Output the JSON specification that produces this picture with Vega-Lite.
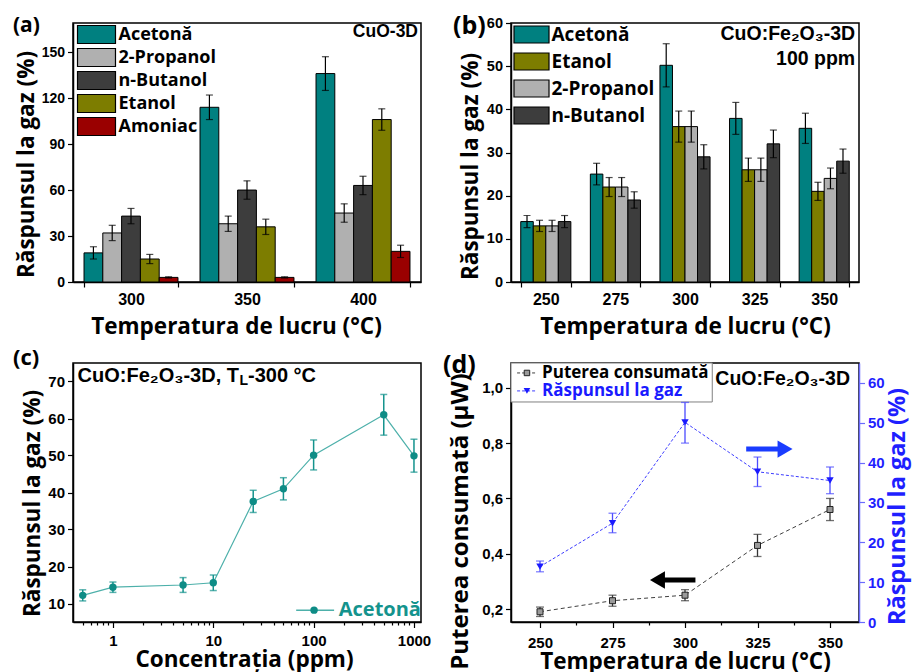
{
  "$schema": "https://vega.github.io/schema/vega-lite/v6.json",
  "background": "white",
  "padding": {"left": 12, "top": 12, "right": 2, "bottom": 2},
  "columns": 2,
  "bounds": "flush",
  "spacing": {"row": 81, "column": 90},
  "resolve": {"scale": {"xOffset": "independent", "fill": "independent"}},
  "config": {
    "font": "Open Sans",
    "view": {"stroke": "black", "strokeWidth": 1.5},
    "axis": {
      "labelFont": "Liberation Sans", "labelFontWeight": "bold", "labelFontSize": 15, "labelColor": "black",
      "titleFont": "Open Sans", "titleFontWeight": "bold", "titleFontSize": 22.5, "titleColor": "black",
      "domainColor": "black", "domainWidth": 1.5, "tickColor": "black", "tickWidth": 1.2, "tickSize": 5,
      "grid": false, "labelFlush": false, "labelOverlap": false, "labelPadding": 3, "labelBound": false
    },
    "title": {"font": "Open Sans", "fontWeight": "bold", "fontSize": 25, "color": "black", "anchor": "start", "frame": "group", "baseline": "alphabetic"},
    "text": {"font": "Liberation Sans", "fontWeight": "bold", "color": "black"}
  },
  "concat": [
    {
      "width": 348, "height": 259,
      "title": {"text": "(a)", "dx": -60, "offset": -12.5, "fontSize": 21},
      "data": {"values": [
        {"T": "300", "gas": "Acetonă", "v": 19, "lo": 15, "hi": 23},
        {"T": "300", "gas": "2-Propanol", "v": 32, "lo": 27, "hi": 37},
        {"T": "300", "gas": "n-Butanol", "v": 43, "lo": 38, "hi": 48},
        {"T": "300", "gas": "Etanol", "v": 15, "lo": 12, "hi": 18},
        {"T": "300", "gas": "Amoniac", "v": 3, "lo": 2.6, "hi": 3.4},
        {"T": "350", "gas": "Acetonă", "v": 114, "lo": 106, "hi": 122},
        {"T": "350", "gas": "2-Propanol", "v": 38, "lo": 33, "hi": 43},
        {"T": "350", "gas": "n-Butanol", "v": 60, "lo": 54, "hi": 66},
        {"T": "350", "gas": "Etanol", "v": 36, "lo": 31, "hi": 41},
        {"T": "350", "gas": "Amoniac", "v": 3, "lo": 2.6, "hi": 3.4},
        {"T": "400", "gas": "Acetonă", "v": 136, "lo": 125, "hi": 147},
        {"T": "400", "gas": "2-Propanol", "v": 45, "lo": 39, "hi": 51},
        {"T": "400", "gas": "n-Butanol", "v": 63, "lo": 57, "hi": 69},
        {"T": "400", "gas": "Etanol", "v": 106, "lo": 99, "hi": 113},
        {"T": "400", "gas": "Amoniac", "v": 20, "lo": 16, "hi": 24}
      ]},
      "layer": [
        {
          "mark": {"type": "bar", "stroke": "black", "strokeWidth": 1},
          "encoding": {
            "x": {"field": "T", "type": "nominal", "scale": {"paddingInner": 0.19, "paddingOuter": 0.095},
                  "axis": {"title": "Temperatura de lucru (°C)", "titleX": 163, "labelAngle": 0, "tickBand": "extent", "labelFontSize": 16, "labelPadding": 4, "titlePadding": 8.5}},
            "xOffset": {"field": "gas", "type": "nominal", "scale": {"domain": ["Acetonă", "2-Propanol", "n-Butanol", "Etanol", "Amoniac"]}},
            "y": {"field": "v", "type": "quantitative", "scale": {"domain": [0, 169], "nice": false},
                  "axis": {"title": "Răspunsul la gaz (%)", "titleY": 141, "titlePadding": 3, "labelFontSize": 14, "labelOverlap": false,
                           "values": [0, 15, 30, 45, 60, 75, 90, 105, 120, 135, 150, 165],
                           "labelExpr": "datum.value % 30 == 0 ? datum.label : ''",
                           "tickSize": {"condition": {"test": "datum.value % 30 != 0", "value": 3}, "value": 5.5}}},
            "fill": {"field": "gas", "type": "nominal",
                     "scale": {"domain": ["Acetonă", "2-Propanol", "n-Butanol", "Etanol", "Amoniac"], "range": ["#008080", "#b0b0b0", "#3d3d3d", "#7d7d00", "#9a0000"]},
                     "legend": {"orient": "none", "legendX": 12, "legendY": 0, "title": null, "padding": 0,
                                "symbolType": "M-1.79,-0.85H1.79V0.85H-1.79Z", "symbolSize": 450, "symbolStrokeColor": "black", "symbolStrokeWidth": 1.2,
                                "labelFont": "Open Sans", "labelFontSize": 18, "labelFontWeight": "bold", "labelColor": "black",
                                "labelOffset": 10.5, "rowPadding": 0, "labelLimit": 300}}
          }
        },
        {
          "mark": {"type": "rule", "color": "black", "strokeWidth": 1.2},
          "encoding": {
            "x": {"field": "T", "type": "nominal"},
            "xOffset": {"field": "gas", "type": "nominal"},
            "y": {"field": "lo", "type": "quantitative"}, "y2": {"field": "hi"}
          }
        },
        {
          "mark": {"type": "tick", "color": "black", "thickness": 1.2, "size": 7},
          "encoding": {
            "x": {"field": "T", "type": "nominal"},
            "xOffset": {"field": "gas", "type": "nominal"},
            "y": {"field": "lo", "type": "quantitative"}
          }
        },
        {
          "mark": {"type": "tick", "color": "black", "thickness": 1.2, "size": 7},
          "encoding": {
            "x": {"field": "T", "type": "nominal"},
            "xOffset": {"field": "gas", "type": "nominal"},
            "y": {"field": "hi", "type": "quantitative"}
          }
        },
        {
          "data": {"values": [{}]},
          "mark": {"type": "text", "align": "right", "baseline": "middle", "dx": 55, "fontSize": 17.5},
          "encoding": {"x": {"datum": "400"}, "y": {"datum": 163}, "text": {"value": "CuO-3D"}}
        }
      ]
    },
    {
      "width": 348, "height": 259,
      "title": {"text": "(b)", "dx": -58, "offset": -23.5},
      "data": {"values": [
        {"T": "250", "gas": "Acetonă", "v": 14, "lo": 12.6, "hi": 15.4},
        {"T": "250", "gas": "Etanol", "v": 13, "lo": 11.7, "hi": 14.3},
        {"T": "250", "gas": "2-Propanol", "v": 13, "lo": 11.7, "hi": 14.3},
        {"T": "250", "gas": "n-Butanol", "v": 14, "lo": 12.6, "hi": 15.4},
        {"T": "275", "gas": "Acetonă", "v": 25, "lo": 22.5, "hi": 27.5},
        {"T": "275", "gas": "Etanol", "v": 22, "lo": 19.8, "hi": 24.2},
        {"T": "275", "gas": "2-Propanol", "v": 22, "lo": 19.8, "hi": 24.2},
        {"T": "275", "gas": "n-Butanol", "v": 19, "lo": 17.1, "hi": 20.9},
        {"T": "300", "gas": "Acetonă", "v": 50.2, "lo": 45.2, "hi": 55.2},
        {"T": "300", "gas": "Etanol", "v": 36, "lo": 32.4, "hi": 39.6},
        {"T": "300", "gas": "2-Propanol", "v": 36, "lo": 32.4, "hi": 39.6},
        {"T": "300", "gas": "n-Butanol", "v": 29, "lo": 26.2, "hi": 31.8},
        {"T": "325", "gas": "Acetonă", "v": 37.9, "lo": 34.2, "hi": 41.6},
        {"T": "325", "gas": "Etanol", "v": 26, "lo": 23.3, "hi": 28.7},
        {"T": "325", "gas": "2-Propanol", "v": 26, "lo": 23.3, "hi": 28.7},
        {"T": "325", "gas": "n-Butanol", "v": 32, "lo": 28.8, "hi": 35.2},
        {"T": "350", "gas": "Acetonă", "v": 35.6, "lo": 32.1, "hi": 39.1},
        {"T": "350", "gas": "Etanol", "v": 21, "lo": 18.9, "hi": 23.1},
        {"T": "350", "gas": "2-Propanol", "v": 24, "lo": 21.6, "hi": 26.4},
        {"T": "350", "gas": "n-Butanol", "v": 28, "lo": 25.2, "hi": 30.8}
      ]},
      "layer": [
        {
          "mark": {"type": "bar", "stroke": "black", "strokeWidth": 1},
          "encoding": {
            "x": {"field": "T", "type": "nominal", "scale": {"paddingInner": 0.28, "paddingOuter": 0.14},
                  "axis": {"title": "Temperatura de lucru (°C)", "labelAngle": 0, "tickBand": "extent", "labelFontSize": 16, "labelPadding": 4, "titlePadding": 8.5}},
            "xOffset": {"field": "gas", "type": "nominal", "scale": {"domain": ["Acetonă", "Etanol", "2-Propanol", "n-Butanol"]}},
            "y": {"field": "v", "type": "quantitative", "scale": {"domain": [0, 60], "nice": false},
                  "axis": {"title": "Răspunsul la gaz (%)", "titleY": 143, "titlePadding": 4, "labelFontSize": 14.5, "labelOverlap": false,
                           "values": [0, 5, 10, 15, 20, 25, 30, 35, 40, 45, 50, 55, 60],
                           "labelExpr": "datum.value % 10 == 0 ? datum.label : ''",
                           "tickSize": {"condition": {"test": "datum.value % 10 != 0", "value": 3}, "value": 5.5}}},
            "fill": {"field": "gas", "type": "nominal",
                     "scale": {"domain": ["Acetonă", "Etanol", "2-Propanol", "n-Butanol"], "range": ["#008080", "#7d7d00", "#b0b0b0", "#3d3d3d"]},
                     "legend": {"orient": "none", "legendX": 5, "legendY": -4, "title": null, "padding": 0,
                                "symbolType": "M-1.175,-0.57H1.175V0.57H-1.175Z", "symbolSize": 888, "symbolStrokeColor": "black", "symbolStrokeWidth": 1.2,
                                "labelFont": "Open Sans", "labelFontSize": 19, "labelFontWeight": "bold", "labelColor": "black",
                                "labelOffset": 4.5, "rowPadding": 0, "labelLimit": 300}}
          }
        },
        {
          "mark": {"type": "rule", "color": "black", "strokeWidth": 1.2},
          "encoding": {
            "x": {"field": "T", "type": "nominal"},
            "xOffset": {"field": "gas", "type": "nominal"},
            "y": {"field": "lo", "type": "quantitative"}, "y2": {"field": "hi"}
          }
        },
        {
          "mark": {"type": "tick", "color": "black", "thickness": 1.2, "size": 7},
          "encoding": {
            "x": {"field": "T", "type": "nominal"},
            "xOffset": {"field": "gas", "type": "nominal"},
            "y": {"field": "lo", "type": "quantitative"}
          }
        },
        {
          "mark": {"type": "tick", "color": "black", "thickness": 1.2, "size": 7},
          "encoding": {
            "x": {"field": "T", "type": "nominal"},
            "xOffset": {"field": "gas", "type": "nominal"},
            "y": {"field": "hi", "type": "quantitative"}
          }
        },
        {
          "data": {"values": [{}]},
          "mark": {"type": "text", "align": "right", "baseline": "middle", "dx": 31, "fontSize": 19.5},
          "encoding": {"x": {"datum": "350"}, "y": {"datum": 57.4}, "text": {"value": "CuO:Fe₂O₃-3D"}}
        },
        {
          "data": {"values": [{}]},
          "mark": {"type": "text", "align": "right", "baseline": "middle", "dx": 31, "fontSize": 19.5},
          "encoding": {"x": {"datum": "350"}, "y": {"datum": 51.6}, "text": {"value": "100 ppm"}}
        }
      ]
    },
    {
      "width": 348, "height": 259,
      "title": {"text": "(c)", "dx": -60, "offset": -7, "fontSize": 22},
      "data": {"values": [
        {"c": 0.5, "v": 12.2, "lo": 10.7, "hi": 13.7},
        {"c": 1, "v": 14.4, "lo": 13.0, "hi": 15.8},
        {"c": 5, "v": 15.0, "lo": 13.0, "hi": 17.0},
        {"c": 10, "v": 15.6, "lo": 13.5, "hi": 17.7},
        {"c": 25, "v": 37.6, "lo": 34.6, "hi": 40.6},
        {"c": 50, "v": 41.0, "lo": 38.0, "hi": 44.0},
        {"c": 100, "v": 50.1, "lo": 46.1, "hi": 54.2},
        {"c": 500, "v": 61.0, "lo": 55.5, "hi": 66.5},
        {"c": 1000, "v": 49.9, "lo": 45.5, "hi": 54.4}
      ]},
      "layer": [
        {
          "mark": {"type": "line", "color": "#4db0aa", "strokeWidth": 1.2},
          "encoding": {
            "x": {"field": "c", "type": "quantitative", "scale": {"type": "log", "domain": [0.4, 1175], "nice": false},
                  "axis": {"title": "Concentrația (ppm)", "titleX": 171, "labelPadding": 6, "titlePadding": 0, "labelOverlap": false,
                           "values": [0.5, 0.6, 0.7, 0.8, 0.9, 1, 2, 3, 4, 5, 6, 7, 8, 9, 10, 20, 30, 40, 50, 60, 70, 80, 90, 100, 200, 300, 400, 500, 600, 700, 800, 900, 1000],
                           "labelExpr": "indexof([1, 10, 100, 1000], datum.value) >= 0 ? format(datum.value, 'd') : ''",
                           "tickSize": {"condition": {"test": "indexof([1, 10, 100, 1000], datum.value) < 0", "value": 3}, "value": 5.5}}},
            "y": {"field": "v", "type": "quantitative", "scale": {"domain": [5, 75], "nice": false},
                  "axis": {"title": "Răspunsul la gaz (%)", "titleY": 140, "titlePadding": 3, "labelOverlap": false,
                           "values": [10, 15, 20, 25, 30, 35, 40, 45, 50, 55, 60, 65, 70, 75],
                           "labelExpr": "datum.value % 10 == 0 ? datum.label : ''",
                           "tickSize": {"condition": {"test": "datum.value % 10 != 0", "value": 3}, "value": 5.5}}}
          }
        },
        {
          "mark": {"type": "rule", "color": "#14938d", "strokeWidth": 1.5},
          "encoding": {"x": {"field": "c", "type": "quantitative"}, "y": {"field": "lo", "type": "quantitative"}, "y2": {"field": "hi"}}
        },
        {
          "mark": {"type": "tick", "orient": "horizontal", "color": "#14938d", "thickness": 1.5, "size": 7},
          "encoding": {"x": {"field": "c", "type": "quantitative"}, "y": {"field": "lo", "type": "quantitative"}}
        },
        {
          "mark": {"type": "tick", "orient": "horizontal", "color": "#14938d", "thickness": 1.5, "size": 7},
          "encoding": {"x": {"field": "c", "type": "quantitative"}, "y": {"field": "hi", "type": "quantitative"}}
        },
        {
          "mark": {"type": "point", "shape": "circle", "filled": true, "color": "#0e8c86", "size": 55, "opacity": 1},
          "encoding": {"x": {"field": "c", "type": "quantitative"}, "y": {"field": "v", "type": "quantitative"}}
        },
        {
          "data": {"values": [{}]},
          "mark": {"type": "text", "align": "right", "baseline": "middle", "dx": 166, "fontSize": 20},
          "encoding": {"x": {"datum": 0.4}, "y": {"datum": 71.5}, "text": {"value": "CuO:Fe₂O₃-3D, T"}}
        },
        {
          "data": {"values": [{}]},
          "mark": {"type": "text", "align": "left", "baseline": "middle", "dx": 166.5, "dy": 5, "fontSize": 14},
          "encoding": {"x": {"datum": 0.4}, "y": {"datum": 71.5}, "text": {"value": "L"}}
        },
        {
          "data": {"values": [{}]},
          "mark": {"type": "text", "align": "left", "baseline": "middle", "dx": 175, "fontSize": 20},
          "encoding": {"x": {"datum": 0.4}, "y": {"datum": 71.5}, "text": {"value": "-300 °C"}}
        },
        {
          "data": {"values": [{}]},
          "mark": {"type": "rule", "color": "#4db0aa", "strokeWidth": 1.5},
          "encoding": {"x": {"datum": 67}, "x2": {"datum": 160}, "y": {"datum": 8.2}}
        },
        {
          "data": {"values": [{}]},
          "mark": {"type": "point", "shape": "circle", "filled": true, "color": "#0e8c86", "size": 55, "opacity": 1},
          "encoding": {"x": {"datum": 101}, "y": {"datum": 8.2}}
        },
        {
          "data": {"values": [{}]},
          "mark": {"type": "text", "align": "left", "baseline": "middle", "fontSize": 20, "font": "Open Sans", "color": "#14938d"},
          "encoding": {"x": {"datum": 178}, "y": {"datum": 8.2}, "text": {"value": "Acetonă"}}
        }
      ]
    },
    {
      "width": 348, "height": 259,
      "title": {"text": "(d)", "dx": -68, "offset": -15},
      "layer": [
        {
          "data": {"values": [
            {"T": 250, "v": 0.19, "lo": 0.173, "hi": 0.207},
            {"T": 275, "v": 0.23, "lo": 0.21, "hi": 0.25},
            {"T": 300, "v": 0.25, "lo": 0.23, "hi": 0.27},
            {"T": 325, "v": 0.43, "lo": 0.39, "hi": 0.47},
            {"T": 350, "v": 0.56, "lo": 0.52, "hi": 0.6}
          ]},
          "layer": [
            {
              "mark": {"type": "line", "color": "#404040", "strokeWidth": 1, "strokeDash": [4, 3]},
              "encoding": {
                "x": {"field": "T", "type": "quantitative", "scale": {"domain": [240, 360], "nice": false},
                      "axis": {"title": "Temperatura de lucru (°C)", "labelPadding": 7.5, "titlePadding": 0, "labelOverlap": false,
                               "values": [250, 262.5, 275, 287.5, 300, 312.5, 325, 337.5, 350],
                               "labelExpr": "datum.value % 25 == 0 ? datum.label : ''",
                               "tickSize": {"condition": {"test": "datum.value % 25 != 0", "value": 3}, "value": 5.5}}},
                "y": {"field": "v", "type": "quantitative", "scale": {"domain": [0.153, 1.09], "nice": false},
                      "axis": {"title": "Puterea consumată (µW)", "titleY": 158, "titleFontSize": 24, "titlePadding": 9, "labelOverlap": false,
                               "values": [0.2, 0.25, 0.3, 0.35, 0.4, 0.45, 0.5, 0.55, 0.6, 0.65, 0.7, 0.75, 0.8, 0.85, 0.9, 0.95, 1.0, 1.05],
                               "labelExpr": "abs(datum.value*10 - round(datum.value*10)) < 0.01 ? replace(format(datum.value, '.1f'), '.', ',') : ''",
                               "tickSize": {"condition": {"test": "abs(datum.value*10 - round(datum.value*10)) >= 0.01", "value": 3}, "value": 5.5}}}
              }
            },
            {
              "mark": {"type": "rule", "color": "#333333", "strokeWidth": 1.3},
              "encoding": {"x": {"field": "T", "type": "quantitative"}, "y": {"field": "lo", "type": "quantitative"}, "y2": {"field": "hi"}}
            },
            {
              "mark": {"type": "tick", "orient": "horizontal", "color": "#333333", "thickness": 1.3, "size": 8},
              "encoding": {"x": {"field": "T", "type": "quantitative"}, "y": {"field": "lo", "type": "quantitative"}}
            },
            {
              "mark": {"type": "tick", "orient": "horizontal", "color": "#333333", "thickness": 1.3, "size": 8},
              "encoding": {"x": {"field": "T", "type": "quantitative"}, "y": {"field": "hi", "type": "quantitative"}}
            },
            {
              "mark": {"type": "point", "shape": "square", "filled": true, "fill": "#9a9a9a", "stroke": "#222222", "strokeWidth": 1, "size": 36, "opacity": 1},
              "encoding": {"x": {"field": "T", "type": "quantitative"}, "y": {"field": "v", "type": "quantitative"}}
            },
            {
              "data": {"values": [{}]},
              "mark": {"type": "rule", "color": "black", "strokeWidth": 5},
              "encoding": {"x": {"datum": 292}, "x2": {"datum": 303.6}, "y": {"datum": 0.305}}
            },
            {
              "data": {"values": [{}]},
              "mark": {"type": "point", "shape": "triangle-left", "filled": true, "color": "black", "size": 300, "opacity": 1},
              "encoding": {"x": {"datum": 290.5}, "y": {"datum": 0.305}}
            },
            {
              "data": {"values": [{}]},
              "mark": {"type": "text", "align": "right", "baseline": "middle", "dx": 20, "fontSize": 19.5},
              "encoding": {"x": {"datum": 350}, "y": {"datum": 1.033}, "text": {"value": "CuO:Fe₂O₃-3D"}}
            },
            {
              "data": {"values": [{}]},
              "mark": {"type": "rect", "fill": "white", "stroke": "#808080", "strokeWidth": 1},
              "encoding": {"x": {"datum": 240}, "x2": {"datum": 309.4}, "y": {"datum": 1.09}, "y2": {"datum": 0.949}}
            },
            {
              "data": {"values": [{}]},
              "mark": {"type": "rule", "color": "#404040", "strokeWidth": 1, "strokeDash": [3, 2]},
              "encoding": {"x": {"datum": 242.1}, "x2": {"datum": 248.9}, "y": {"datum": 1.054}}
            },
            {
              "data": {"values": [{}]},
              "mark": {"type": "point", "shape": "square", "filled": true, "fill": "#9a9a9a", "stroke": "#222222", "strokeWidth": 1, "size": 30, "opacity": 1},
              "encoding": {"x": {"datum": 245.5}, "y": {"datum": 1.054}}
            },
            {
              "data": {"values": [{}]},
              "mark": {"type": "text", "align": "left", "baseline": "middle", "fontSize": 17, "font": "Open Sans"},
              "encoding": {"x": {"datum": 250.7}, "y": {"datum": 1.054}, "text": {"value": "Puterea consumată"}}
            },
            {
              "data": {"values": [{}]},
              "mark": {"type": "rule", "color": "#3d3dff", "strokeWidth": 1, "strokeDash": [3, 2]},
              "encoding": {"x": {"datum": 242.1}, "x2": {"datum": 248.9}, "y": {"datum": 0.989}}
            },
            {
              "data": {"values": [{}]},
              "mark": {"type": "point", "shape": "triangle-down", "filled": true, "color": "#1a1aff", "size": 45, "opacity": 1},
              "encoding": {"x": {"datum": 245.5}, "y": {"datum": 0.989}}
            },
            {
              "data": {"values": [{}]},
              "mark": {"type": "text", "align": "left", "baseline": "middle", "fontSize": 17, "font": "Open Sans", "color": "#1a1aff"},
              "encoding": {"x": {"datum": 250.7}, "y": {"datum": 0.989}, "text": {"value": "Răspunsul la gaz"}}
            }
          ]
        },
        {
          "data": {"values": [
            {"T": 250, "v": 13.9, "lo": 12.6, "hi": 15.3},
            {"T": 275, "v": 24.8, "lo": 22.4, "hi": 27.3},
            {"T": 300, "v": 50.1, "lo": 44.9, "hi": 55.1},
            {"T": 325, "v": 37.7, "lo": 34.0, "hi": 41.4},
            {"T": 350, "v": 35.5, "lo": 32.2, "hi": 38.9}
          ]},
          "layer": [
            {
              "mark": {"type": "line", "color": "#3d3dff", "strokeWidth": 1, "strokeDash": [3, 2]},
              "encoding": {
                "x": {"field": "T", "type": "quantitative"},
                "y": {"field": "v", "type": "quantitative", "scale": {"domain": [0, 65], "nice": false},
                      "axis": {"orient": "right", "title": "Răspunsul la gaz (%)", "titleY": 143, "titleAngle": 270, "titleBaseline": "top", "titleFontSize": 23.5, "titlePadding": 1,
                               "titleColor": "#1f1fff", "labelColor": "#1f1fff", "domainColor": "#6b6bff", "tickColor": "#6b6bff", "labelOverlap": false,
                               "values": [0, 5, 10, 15, 20, 25, 30, 35, 40, 45, 50, 55, 60, 65],
                               "labelExpr": "datum.value % 10 == 0 ? datum.label : ''",
                               "tickSize": {"condition": {"test": "datum.value % 10 != 0", "value": 3}, "value": 5.5}}}
              }
            },
            {
              "mark": {"type": "rule", "color": "#4b4bff", "strokeWidth": 1.3},
              "encoding": {"x": {"field": "T", "type": "quantitative"}, "y": {"field": "lo", "type": "quantitative"}, "y2": {"field": "hi"}}
            },
            {
              "mark": {"type": "tick", "orient": "horizontal", "color": "#4b4bff", "thickness": 1.3, "size": 8},
              "encoding": {"x": {"field": "T", "type": "quantitative"}, "y": {"field": "lo", "type": "quantitative"}}
            },
            {
              "mark": {"type": "tick", "orient": "horizontal", "color": "#4b4bff", "thickness": 1.3, "size": 8},
              "encoding": {"x": {"field": "T", "type": "quantitative"}, "y": {"field": "hi", "type": "quantitative"}}
            },
            {
              "mark": {"type": "point", "shape": "triangle-down", "filled": true, "color": "#1a1aff", "size": 55, "opacity": 1},
              "encoding": {"x": {"field": "T", "type": "quantitative"}, "y": {"field": "v", "type": "quantitative"}}
            },
            {
              "data": {"values": [{}]},
              "mark": {"type": "rule", "color": "#1a3cff", "strokeWidth": 5},
              "encoding": {"x": {"datum": 321.1}, "x2": {"datum": 333}, "y": {"datum": 43.4}}
            },
            {
              "data": {"values": [{}]},
              "mark": {"type": "point", "shape": "triangle-right", "filled": true, "color": "#1a3cff", "size": 300, "opacity": 1},
              "encoding": {"x": {"datum": 334.5}, "y": {"datum": 43.4}}
            }
          ]
        }
      ],
      "resolve": {"scale": {"y": "independent"}}
    }
  ]
}
